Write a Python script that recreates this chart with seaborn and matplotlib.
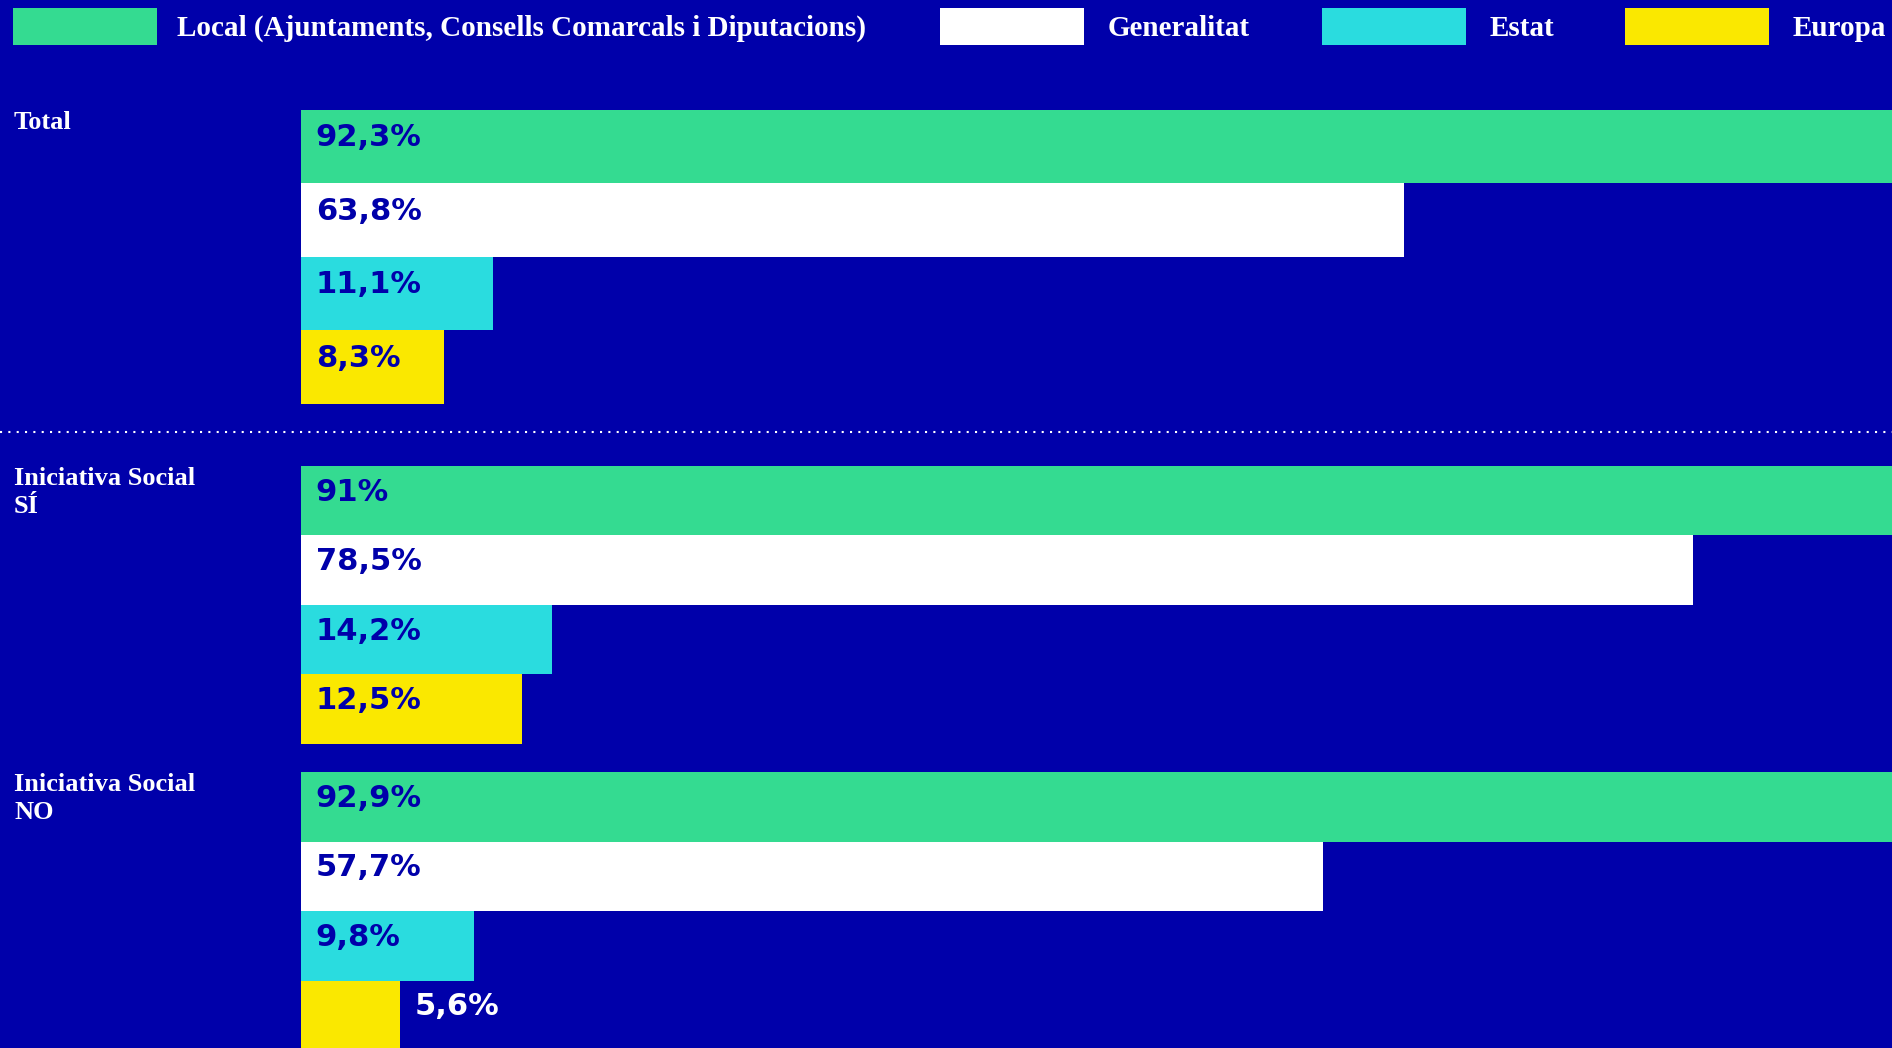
import matplotlib
matplotlib.use("Agg")
import matplotlib.pyplot as plt
import seaborn as sns
import pandas as pd
from matplotlib.patches import Rectangle
from matplotlib.lines import Line2D

# ---- data ----
groups = ["Total", "Iniciativa Social\nSÍ", "Iniciativa Social\nNO"]
sources = ["Local (Ajuntaments, Consells Comarcals i Diputacions)",
           "Generalitat", "Estat", "Europa"]
total_vals = [92.3, 63.8, 11.1, 8.3]
si_vals = [91.0, 78.5, 14.2, 12.5]
no_vals = [92.9, 57.7, 9.8, 5.6]

# ---- style ----
BG = "#0000AA"
colors = ["#34DB91", "#FFFFFF", "#2ADCDF", "#FAE800"]
palette = dict(zip(sources, colors))
SERIF = ["Liberation Serif", "DejaVu Serif"]
SANS = ["DejaVu Sans"]

rows = []
for g, vals in zip(groups, [total_vals, si_vals, no_vals]):
    for s, v in zip(sources, vals):
        rows.append({"group": g, "source": s, "value": v})
df = pd.DataFrame(rows)


def fmt(v):
    t = f"{v:.1f}".replace(".", ",")
    if t.endswith(",0"):
        t = t[:-2]
    return t + "%"


W, H = 1892, 1048
fig = plt.figure(figsize=(W / 100, H / 100), dpi=100, facecolor=BG)

left_px = 300.5
sections = [(110, 404), (466, 744), (772, 1050)]
xmaxes = [92.0, 89.7, 89.8]

for g, (top, bot), xm in zip(groups, sections, xmaxes):
    ax = fig.add_axes([left_px / W, 1 - bot / H, 1 - left_px / W, (bot - top) / H])
    ax.set_facecolor(BG)
    sub = df[df["group"] == g]
    sns.barplot(data=sub, y="source", x="value", hue="source", order=sources,
                hue_order=sources, palette=palette, width=1.0, errorbar=None,
                legend=False, saturation=1, linewidth=0, ax=ax)
    ax.set_xlim(0, xm)
    ax.set_ylim(3.5, -0.5)
    ax.axis("off")
    for i, v in enumerate(sub["value"].tolist()):
        if v < 7:
            ax.annotate(fmt(v), xy=(v, i - 0.12), xytext=(11, 0),
                        textcoords="offset points", va="center", ha="left",
                        fontsize=22, fontweight="bold", color="white",
                        family=SANS)
        else:
            ax.annotate(fmt(v), xy=(0, i - 0.12), xytext=(11, 0),
                        textcoords="offset points", va="center", ha="left",
                        fontsize=22, fontweight="bold", color=BG, family=SANS)
    fig.text(14 / W, 1 - (top + 1) / H, g, va="top", ha="left", color="white",
             fontsize=19, fontweight="bold", family=SERIF, linespacing=1.3)

# dotted separator
fig.add_artist(Line2D([0, 1], [1 - 432 / H] * 2, transform=fig.transFigure,
                      color="white", lw=1.5, linestyle=(0, (1, 3))))

# legend
patch_x = [13, 940, 1322, 1625]
text_x = [177, 1108, 1490, 1793]
for s, c, px, tx in zip(sources, colors, patch_x, text_x):
    fig.add_artist(Rectangle((px / W, 1 - 45 / H), 144 / W, 37 / H,
                             transform=fig.transFigure, facecolor=c,
                             edgecolor="none"))
    fig.text(tx / W, 1 - 28 / H, s, va="center", ha="left", color="white",
             fontsize=21, fontweight="bold", family=SERIF)

fig.savefig("out.png", dpi=100, facecolor=BG)
